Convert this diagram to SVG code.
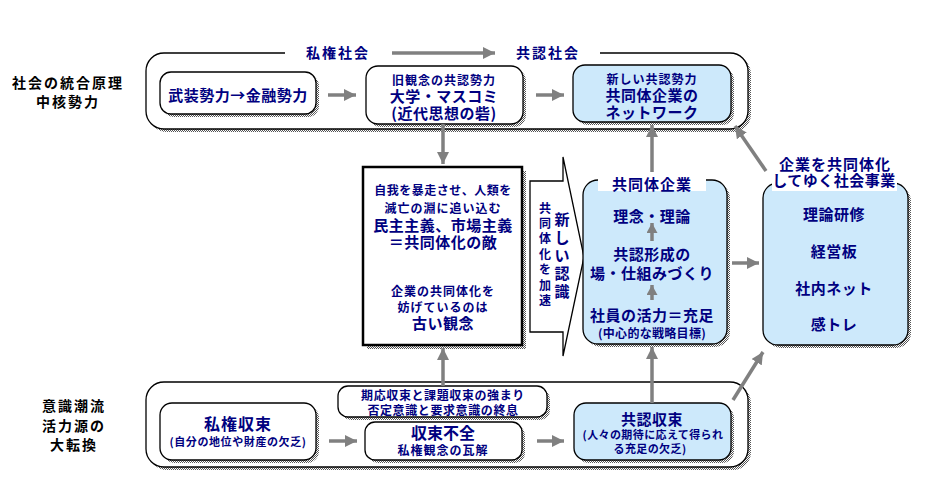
<svg xmlns="http://www.w3.org/2000/svg" width="946" height="495" viewBox="0 0 946 495">
<defs>
<pattern id="ht" width="2" height="2" patternUnits="userSpaceOnUse"><rect width="2" height="2" fill="#fff"/><rect width="1" height="1" fill="#555"/><rect x="1" y="1" width="1" height="1" fill="#555"/></pattern>
<marker id="ah" markerUnits="userSpaceOnUse" markerWidth="12" markerHeight="12" refX="12" refY="6" orient="auto"><path d="M0,0 L12,6 L0,12 z" fill="#808080"/></marker>
<marker id="ahs" markerUnits="userSpaceOnUse" markerWidth="10" markerHeight="11" refX="10" refY="5.5" orient="auto"><path d="M0,0 L10,5.5 L0,11 z" fill="#808080"/></marker>
<style>
.t{font-family:"Noto Sans CJK JP","Noto Sans CJK SC",sans-serif;font-weight:bold;fill:#000080;text-anchor:middle;dominant-baseline:central;}
.k{fill:#000;}
.s12{font-size:12px;letter-spacing:1px;}
.s11{font-size:11px;letter-spacing:0.8px;}
.s14{font-size:14px;letter-spacing:1px;}
.s15{font-size:15px;letter-spacing:0.5px;}
.s16{font-size:16px;}
.box{fill:#fff;stroke:#000;stroke-width:1.3;}
.blue{fill:#cde9fb;}
.sh{fill:url(#ht);}
.ln{stroke:#000;stroke-width:1.3;fill:none;}
.arr{stroke:#808080;stroke-width:3.5;fill:none;marker-end:url(#ah);}
.arrs{stroke:#808080;stroke-width:3.5;fill:none;marker-end:url(#ahs);}
</style>
</defs>
<rect width="946" height="495" fill="#fff"/>

<g id="labels-left">
<text class="t k s14" x="68" y="82" style="letter-spacing:2px">社会の統合原理</text>
<text class="t k s14" x="68" y="101" style="letter-spacing:2px">中核勢力</text>
<text class="t k s14" x="74" y="405" style="letter-spacing:2px">意識潮流</text>
<text class="t k s14" x="74" y="425" style="letter-spacing:2px">活力源の</text>
<text class="t k s14" x="74" y="444" style="letter-spacing:2px">大転換</text>
</g>

<g id="frame-top">
<rect class="sh" x="149" y="56" width="602" height="76" rx="18"/>
<rect class="box" x="146" y="53" width="602" height="76" rx="18"/>
<rect x="285" y="46" width="315" height="14" fill="#fff"/>
<text class="t s14" x="338" y="52" style="letter-spacing:2px">私権社会</text>
<text class="t s14" x="548" y="52" style="letter-spacing:2px">共認社会</text>
</g>

<g id="frame-bottom">
<rect class="sh" x="149" y="385" width="602" height="85" rx="18"/>
<rect class="box" x="146" y="382" width="602" height="85" rx="18"/>
</g>

<g id="n-buso">
<rect class="sh" x="163" y="75" width="156" height="42" rx="11"/>
<rect class="box" x="160" y="72" width="156" height="42" rx="11"/>
<text class="t s15" x="238" y="94">武装勢力→金融勢力</text>
</g>

<g id="n-kyukannen">
<rect class="sh" x="369" y="69" width="157" height="58" rx="12"/>
<rect class="box" x="366" y="66" width="157" height="58" rx="12"/>
<text class="t s12" x="444" y="79">旧観念の共認勢力</text>
<text class="t s15" x="444" y="95">大学・マスコミ</text>
<text class="t s15" x="444" y="112">(近代思想の砦)</text>
</g>

<g id="n-atarashii">
<rect class="sh" x="576" y="68" width="158" height="57" rx="12"/>
<rect class="box blue" x="573" y="65" width="158" height="57" rx="12"/>
<text class="t s12" x="652" y="78">新しい共認勢力</text>
<text class="t s15" x="652" y="94">共同体企業の</text>
<text class="t s15" x="652" y="111">ネットワーク</text>
</g>

<g id="n-teki">
<rect class="sh" x="367" y="171" width="159" height="178"/>
<rect x="363" y="167" width="159" height="178" fill="#fff" stroke="#000" stroke-width="2.5"/>
<text class="t s12" x="443" y="189" style="letter-spacing:0.5px">自我を暴走させ、人類を</text>
<text class="t s12" x="443" y="207">滅亡の淵に追い込む</text>
<text class="t s15" x="443" y="224">民主主義、市場主義</text>
<text class="t s15" x="443" y="241">＝共同体化の敵</text>
<text class="t s12" x="443" y="290">企業の共同体化を</text>
<text class="t s12" x="443" y="306">妨げているのは</text>
<text class="t s15" x="443" y="322">古い観念</text>
</g>

<g id="n-ninshiki">
<path class="ln" d="M530,181 L563,181 L563,157 L584,257 L563,356 L563,332 L530,332 Z" fill="#fff"/>
<text class="t" style="font-size:12px">
<tspan x="545" y="207">共</tspan><tspan x="545" y="222">同</tspan><tspan x="545" y="237">体</tspan><tspan x="545" y="253">化</tspan><tspan x="545" y="268">を</tspan><tspan x="545" y="284">加</tspan><tspan x="545" y="299">速</tspan>
</text>
<text class="t" style="font-size:15px">
<tspan x="562" y="218">新</tspan><tspan x="562" y="236">し</tspan><tspan x="562" y="254">い</tspan><tspan x="562" y="272">認</tspan><tspan x="562" y="290">識</tspan>
</text>
</g>

<g id="n-kyodotai">
<rect class="sh" x="586" y="183" width="144" height="164" rx="15"/>
<rect class="box blue" x="583" y="180" width="144" height="164" rx="15"/>
<rect x="598" y="172" width="108" height="19" fill="#fff"/>
<text class="t s15" x="652" y="183" style="letter-spacing:1px">共同体企業</text>
<text class="t s15" x="652" y="215">理念・理論</text>
<text class="t s15" x="652" y="253">共認形成の</text>
<text class="t s15" x="652" y="272">場・仕組みづくり</text>
<text class="t s15" x="652" y="314">社員の活力＝充足</text>
<text class="t s12" x="652" y="332" style="letter-spacing:0.3px">(中心的な戦略目標)</text>
</g>

<g id="n-jigyo">
<rect class="sh" x="766" y="186" width="145" height="162" rx="15"/>
<rect class="box blue" x="763" y="183" width="145" height="162" rx="15"/>
<rect x="772" y="154" width="125" height="37" fill="#fff"/>
<text class="t s15" x="835" y="163" style="letter-spacing:1px">企業を共同体化</text>
<text class="t s15" x="834" y="179">してゆく社会事業</text>
<text class="t s15" x="834" y="213">理論研修</text>
<text class="t s15" x="834" y="250">経営板</text>
<text class="t s15" x="834" y="287">社内ネット</text>
<text class="t s15" x="834" y="323">感トレ</text>
</g>

<g id="n-shiken">
<rect class="sh" x="163" y="406" width="156" height="57" rx="12"/>
<rect class="box" x="160" y="403" width="156" height="57" rx="12"/>
<text class="t s16" x="238" y="423" style="letter-spacing:1px">私権収束</text>
<text class="t s11" x="238" y="441" style="letter-spacing:0.6px">(自分の地位や財産の欠乏)</text>
</g>

<g id="n-kiou">
<rect class="sh" x="341" y="389" width="209" height="31" rx="10"/>
<rect class="box" x="338" y="386" width="209" height="31" rx="10"/>
<text class="t s12" x="443" y="394" style="letter-spacing:0.6px">期応収束と課題収束の強まり</text>
<text class="t s12" x="443" y="409" style="letter-spacing:0.6px">否定意識と要求意識の終息</text>
</g>

<g id="n-fuzen">
<rect class="sh" x="368" y="425" width="157" height="38" rx="10"/>
<rect class="box" x="365" y="422" width="157" height="38" rx="10"/>
<text class="t s16" x="443" y="432">収束不全</text>
<text class="t s12" x="443" y="449">私権観念の瓦解</text>
</g>

<g id="n-kyonin">
<rect class="sh" x="577" y="406" width="157" height="57" rx="12"/>
<rect class="box blue" x="574" y="403" width="157" height="57" rx="12"/>
<text class="t s15" x="652" y="418">共認収束</text>
<text class="t s11" x="653" y="434" style="letter-spacing:0.4px">(人々の期待に応えて得られ</text>
<text class="t s11" x="650" y="448" style="letter-spacing:0.4px">る充足の欠乏)</text>
</g>

<g id="connectors">
<line class="arr" x1="392" y1="53" x2="495" y2="53"/>
<line class="arr" x1="328" y1="95" x2="356" y2="95"/>
<line class="arr" x1="536" y1="95" x2="564" y2="95"/>
<line class="arr" x1="443" y1="124" x2="443" y2="164"/>
<line class="arr" x1="652" y1="172" x2="652" y2="125"/>
<line class="arr" x1="766" y1="171" x2="735" y2="126"/>
<line class="arrs" x1="652" y1="241" x2="652" y2="223"/>
<line class="arrs" x1="652" y1="300" x2="652" y2="285"/>
<line class="arr" x1="732" y1="263" x2="759" y2="263"/>
<line class="arr" x1="443" y1="386" x2="443" y2="348"/>
<line class="arr" x1="652" y1="403" x2="652" y2="347"/>
<line class="arr" x1="733" y1="400" x2="763" y2="352"/>
<line class="arr" x1="329" y1="441" x2="357" y2="441"/>
<line class="arr" x1="537" y1="441" x2="564" y2="441"/>
</g>
</svg>
